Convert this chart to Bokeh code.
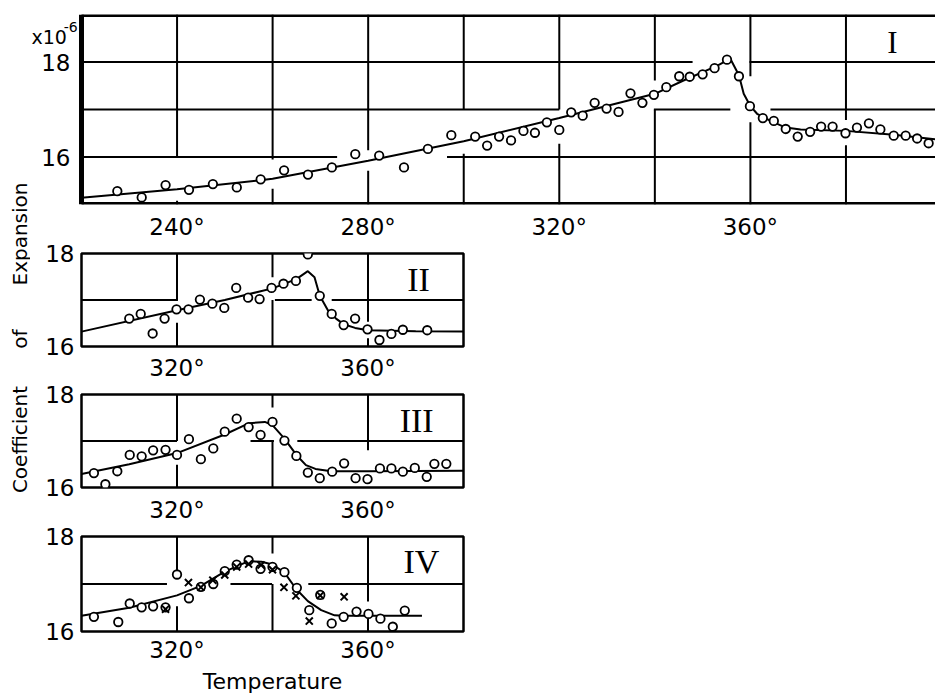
import math
from bokeh.plotting import figure
from bokeh.layouts import row, column
from bokeh.models import FixedTicker, Label
from bokeh.embed import file_html
from bokeh.resources import INLINE

FONT = "DejaVu Sans"
SERIF = "Liberation Serif"

# ---------------- data ----------------
# Panel I
I_pt_T = [227.5, 232.6, 237.6, 242.5, 247.5, 252.5, 257.5, 262.4, 267.4, 272.4,
          277.3, 282.3, 287.5, 292.5, 297.4, 302.4, 304.9, 307.4, 309.9, 312.5,
          314.9, 317.4, 320.0, 322.5, 324.9, 327.4, 329.9, 332.4, 334.9, 337.4,
          339.8, 342.4, 345.1, 347.3, 350.0, 352.5, 355.1, 357.6, 359.9, 362.6,
          364.9, 367.4, 369.9, 372.5, 374.8, 377.2, 379.9, 382.3, 384.8, 387.2,
          390.0, 392.5, 394.9, 397.3]
I_pt_v = [15.28, 15.15, 15.41, 15.31, 15.43, 15.36, 15.53, 15.72, 15.63, 15.78,
          16.06, 16.03, 15.78, 16.17, 16.46, 16.43, 16.24, 16.43, 16.35, 16.55,
          16.51, 16.73, 16.57, 16.94, 16.87, 17.14, 17.02, 16.95, 17.34, 17.14,
          17.31, 17.47, 17.70, 17.69, 17.74, 17.87, 18.05, 17.70, 17.07, 16.82,
          16.76, 16.59, 16.43, 16.53, 16.64, 16.64, 16.50, 16.62, 16.71, 16.58,
          16.45, 16.45, 16.39, 16.29]
I_curve_T = [220, 240, 260, 280, 300, 320, 340, 346, 353, 355.8, 357.6, 358.6,
             360, 361.4, 364.2, 367.4, 370.5, 380, 390, 400]
I_curve_v = [15.14, 15.32, 15.54, 15.92, 16.33, 16.82, 17.33, 17.61, 17.92, 18.07,
             17.72, 17.33, 17.07, 16.91, 16.76, 16.62, 16.58, 16.55, 16.47, 16.36]

# Panel II
II_pt_T = [310.0, 312.4, 314.9, 317.4, 319.9, 322.4, 324.8, 327.4, 329.9, 332.4,
           334.9, 337.3, 339.8, 342.3, 344.9, 347.4, 349.9, 352.4, 354.9, 357.3,
           359.9, 362.4, 364.9, 367.3, 372.4]
II_pt_v = [16.60, 16.70, 16.28, 16.60, 16.80, 16.80, 17.01, 16.92, 16.83, 17.26,
           17.05, 17.02, 17.26, 17.35, 17.41, 17.98, 17.09, 16.70, 16.46, 16.60,
           16.37, 16.14, 16.27, 16.36, 16.35]
II_curve_T = [300, 320, 330, 340, 345, 347.4, 348.8, 349.9, 351.6, 353.3, 354.9,
              357.3, 360, 370, 380]
II_curve_v = [16.32, 16.78, 17.0, 17.25, 17.45, 17.62, 17.49, 17.09, 16.78, 16.6,
              16.48, 16.40, 16.35, 16.33, 16.32]

# Panel III
III_pt_T = [302.6, 305.0, 307.5, 310.1, 312.6, 315.0, 317.6, 320.0, 322.5, 325.0,
            327.6, 330.0, 332.5, 335.0, 337.5, 340.0, 342.5, 345.0, 347.4, 349.9,
            352.5, 355.0, 357.4, 359.9, 362.5, 364.9, 367.3, 369.8, 372.3, 373.9,
            376.4]
III_pt_v = [16.31, 16.07, 16.35, 16.70, 16.67, 16.80, 16.81, 16.70, 17.04, 16.61,
            16.84, 17.20, 17.48, 17.30, 17.13, 17.41, 17.01, 16.68, 16.32, 16.20,
            16.34, 16.52, 16.20, 16.18, 16.41, 16.41, 16.34, 16.42, 16.23, 16.51,
            16.51]
III_curve_T = [300, 310, 320, 330, 335, 338.4, 340, 342.5, 345, 347, 349, 352.3,
               360, 380]
III_curve_v = [16.29, 16.5, 16.74, 17.14, 17.38, 17.41, 17.34, 17.05, 16.7, 16.48,
               16.4, 16.35, 16.35, 16.36]

# Panel IV
IV_circ_T = [302.6, 307.7, 310.1, 312.6, 315.0, 317.6, 320.0, 322.5, 325.0, 327.6,
             330.0, 332.5, 335.0, 337.5, 340.0, 342.5, 345.1, 347.7, 350.0, 352.4,
             354.9, 357.6, 360.1, 362.6, 365.2, 367.7]
IV_circ_v = [16.31, 16.20, 16.59, 16.51, 16.53, 16.51, 17.20, 16.70, 16.94, 17.00,
             17.27, 17.41, 17.50, 17.32, 17.36, 17.25, 16.92, 16.45, 16.77, 16.17,
             16.31, 16.42, 16.37, 16.27, 16.10, 16.44]
IV_cross_T = [317.6, 322.4, 325.0, 327.5, 330.0, 332.5, 335.0, 337.6, 340.0, 342.4,
              344.9, 347.7, 350.0, 355.0]
IV_cross_v = [16.47, 17.03, 16.93, 17.08, 17.19, 17.36, 17.42, 17.40, 17.30, 16.93,
              16.75, 16.22, 16.76, 16.73]
IV_curve_T = [300, 310, 320, 325, 330, 335, 337.7, 340, 342.5, 345, 347.4, 350.2,
              353, 355, 371.3]
IV_curve_v = [16.33, 16.5, 16.76, 16.96, 17.26, 17.48, 17.47, 17.41, 17.24, 16.89,
              16.64, 16.45, 16.34, 16.33, 16.33]

# axis ranges / ticks
I_T_start, I_T_end = 220, 398.74
I_v_lo, I_v_hi = 15, 19
S_T_start, S_T_end = 300, 380
S_v_lo, S_v_hi = 16, 18
I_xticks = [240, 280, 320, 360]
I_xgrid = [240, 260, 280, 300, 320, 340, 360, 380]
I_yticks = [16, 18]
I_ygrid = [16, 17, 18]
S_xticks = [320, 360]
S_xgrid = [320, 340, 360]
S_yticks = [16, 18]
S_ygrid = [17]

Y_TITLE = ["Coefficient", "of", "Expansion"]
X_TITLE = "Temperature"
SCALE_TXT = ["x10", "-6"]

# style: where the draughtsman left the ruled lines open around the curve
I_hgaps = {16: [(273.5, 296.5)], 17: [(320, 339.8), (355.8, 364.2)],
           18: [(347.9, 359.8)]}
I_vgaps = {240: [(15.08, 16.0)], 260: [(15.33, 15.95)], 280: [(15.71, 16.14)],
           300: [(16.07, 17.0)], 320: [(16.28, 17.0)], 340: [(17.0, 17.61)],
           360: [(16.73, 17.70)], 380: [(16.25, 16.78)]}
II_hgaps = {17: [(320.2, 340.5), (348.2, 352.4)]}
II_vgaps = {320: [(16.51, 17.0)], 340: [(17.0, 17.49)], 360: [(16.18, 16.53)]}
III_hgaps = {17: [(320, 335.4), (340.3, 345.2)]}
III_vgaps = {320: [(16.49, 17.0)], 340: [(17.0, 17.72)], 360: [(16.0, 16.8)]}
IV_hgaps = {17: [(317.9, 331.2), (339.9, 347.5)]}
IV_vgaps = {320: [(16.53, 17.23)], 340: [(17.0, 17.64)], 360: [(16.28, 16.63)]}


def split(lo, hi, gaps):
    segs, cur = [], lo
    for a, b in sorted(gaps):
        if a > cur:
            segs.append((cur, a))
        cur = max(cur, b)
    if cur < hi:
        segs.append((cur, hi))
    return segs


def ruled_grid(p, xgrid, ygrid, xlo, xhi, ylo, yhi, vgaps, hgaps):
    x0, x1, y0, y1 = [], [], [], []
    for t in xgrid:
        for a, b in split(ylo, yhi, vgaps.get(t, [])):
            x0.append(t); x1.append(t); y0.append(a); y1.append(b)
    for v in ygrid:
        for a, b in split(xlo, xhi, hgaps.get(v, [])):
            x0.append(a); x1.append(b); y0.append(v); y1.append(v)
    p.segment(x0=x0, x1=x1, y0=y0, y1=y1, line_color="black", line_width=2)


def style(p, xticks, yticks, xstand, outline=True):
    p.xaxis.ticker = FixedTicker(ticks=xticks)
    p.xaxis.major_label_overrides = {t: f"{t}°" for t in xticks}
    axes = [p.xaxis]
    if yticks is not None:
        p.yaxis.ticker = FixedTicker(ticks=yticks)
        axes.append(p.yaxis)
        p.yaxis.major_label_standoff = 7
    for g in p.grid:
        g.visible = False
    for ax in axes:
        ax.axis_line_color = None
        ax.major_tick_line_color = None
        ax.minor_tick_line_color = None
        ax.major_tick_out = 0
        ax.major_tick_in = 0
        ax.major_label_text_font = FONT
        ax.major_label_text_font_size = "23px"
        ax.major_label_text_color = "black"
    p.xaxis.major_label_standoff = xstand
    if outline:
        p.outline_line_color = "black"
        p.outline_line_width = 2.5
        p.outline_line_alpha = 1
    else:
        p.outline_line_color = None
    p.background_fill_color = "white"
    p.border_fill_color = "white"


def draw(p, cT, cv, pT, pv):
    p.line(cT, cv, line_color="black", line_width=2)
    p.scatter(pT, pv, marker="circle", size=8.5, fill_color="white",
              line_color="black", line_width=1.8)


def numeral(p, text, x, y, size):
    p.add_layout(Label(x=x, y=y, text=text, text_font=SERIF,
                       text_font_size=size, text_align="center",
                       text_baseline="middle", text_color="black"))


# ---------------- panel I ----------------
# frame reaches a little left of 220 deg so the scale note and value labels
# (drawn in data space) can sit to the left of the ruled grid
PX_PER_DEG = 4.778
I_left = I_T_start - 51 / PX_PER_DEG
p1 = figure(width=905, height=242, x_range=(I_left, I_T_end),
            y_range=(I_v_lo, I_v_hi), y_axis_type=None,
            toolbar_location=None, output_backend="svg",
            min_border_left=0, min_border_right=0, min_border_top=14,
            min_border_bottom=38)
style(p1, I_xticks, None, 9, outline=False)
ruled_grid(p1, I_xgrid, I_ygrid, I_T_start, I_T_end, I_v_lo, I_v_hi,
           I_vgaps, I_hgaps)
p1.segment(x0=[I_T_start, I_T_start, I_T_start], x1=[I_T_start, I_T_end, I_T_end],
           y0=[I_v_lo, I_v_lo, I_v_hi], y1=[I_v_hi, I_v_lo, I_v_hi],
           line_color="black", line_width=5)
draw(p1, I_curve_T, I_curve_v, I_pt_T, I_pt_v)
numeral(p1, "I", 389.7, 18.42, "31px")
for t in I_yticks:
    p1.add_layout(Label(x=I_T_start - 11 / PX_PER_DEG, y=t, text=str(t),
                        text_font=FONT, text_font_size="23px",
                        text_align="right", text_baseline="middle",
                        text_color="black"))
p1.add_layout(Label(x=I_left + 0.2, y=18.53, text=SCALE_TXT[0], text_font=FONT,
                    text_font_size="19px", text_align="left",
                    text_baseline="alphabetic", text_color="black"))
p1.add_layout(Label(x=216.3, y=18.74, text=SCALE_TXT[1], text_font=FONT,
                    text_font_size="14px", text_align="left",
                    text_baseline="alphabetic", text_color="black"))

# ---------------- panel II ----------------
p2 = figure(width=443, height=141, x_range=(S_T_start, S_T_end),
            y_range=(S_v_lo, S_v_hi), toolbar_location=None,
            output_backend="svg", min_border_left=51, min_border_right=10,
            min_border_top=11, min_border_bottom=36)
style(p2, S_xticks, S_yticks, 8)
ruled_grid(p2, S_xgrid, S_ygrid, S_T_start, S_T_end, S_v_lo, S_v_hi,
           II_vgaps, II_hgaps)
draw(p2, II_curve_T, II_curve_v, II_pt_T, II_pt_v)
numeral(p2, "II", 370.6, 17.45, "34px")

# ---------------- panel III ----------------
p3 = figure(width=443, height=142, x_range=(S_T_start, S_T_end),
            y_range=(S_v_lo, S_v_hi), toolbar_location=None,
            output_backend="svg", min_border_left=51, min_border_right=10,
            min_border_top=11, min_border_bottom=36)
style(p3, S_xticks, S_yticks, 9)
ruled_grid(p3, S_xgrid, S_ygrid, S_T_start, S_T_end, S_v_lo, S_v_hi,
           III_vgaps, III_hgaps)
draw(p3, III_curve_T, III_curve_v, III_pt_T, III_pt_v)
numeral(p3, "III", 370.2, 17.45, "34px")

# ---------------- panel IV ----------------
p4 = figure(width=443, height=171, x_range=(S_T_start, S_T_end),
            y_range=(S_v_lo, S_v_hi), toolbar_location=None,
            output_backend="svg", min_border_left=51, min_border_right=10,
            min_border_top=11, min_border_bottom=64)
style(p4, S_xticks, S_yticks, 5)
p4.xaxis.axis_label = X_TITLE
p4.xaxis.axis_label_text_font = FONT
p4.xaxis.axis_label_text_font_size = "22px"
p4.xaxis.axis_label_text_font_style = "normal"
p4.xaxis.axis_label_text_color = "black"
p4.xaxis.axis_label_standoff = 3
ruled_grid(p4, S_xgrid, S_ygrid, S_T_start, S_T_end, S_v_lo, S_v_hi,
           IV_vgaps, IV_hgaps)
draw(p4, IV_curve_T, IV_curve_v, IV_circ_T, IV_circ_v)
p4.scatter(IV_cross_T, IV_cross_v, marker="x", size=10, line_color="black",
           line_width=2)
numeral(p4, "IV", 371.2, 17.48, "34px")

# ---------------- y title column ----------------
lf = figure(width=30, height=696, x_range=(0, 30), y_range=(0, 696),
            toolbar_location=None, output_backend="svg", min_border=0,
            x_axis_type=None, y_axis_type=None)
lf.grid.visible = False
lf.outline_line_color = None
lf.border_fill_color = "white"
lf.background_fill_color = "white"
for word, yy in zip(Y_TITLE, [257, 357.5, 462.5]):
    lf.add_layout(Label(x=19, y=yy, text=word, angle=math.pi / 2,
                        text_font=FONT, text_font_size="20px",
                        text_align="center", text_baseline="middle",
                        text_color="black"))

layout = row(lf, column(row(p1), p2, p3, p4))
open("out.html", "w").write(file_html(layout, INLINE))
